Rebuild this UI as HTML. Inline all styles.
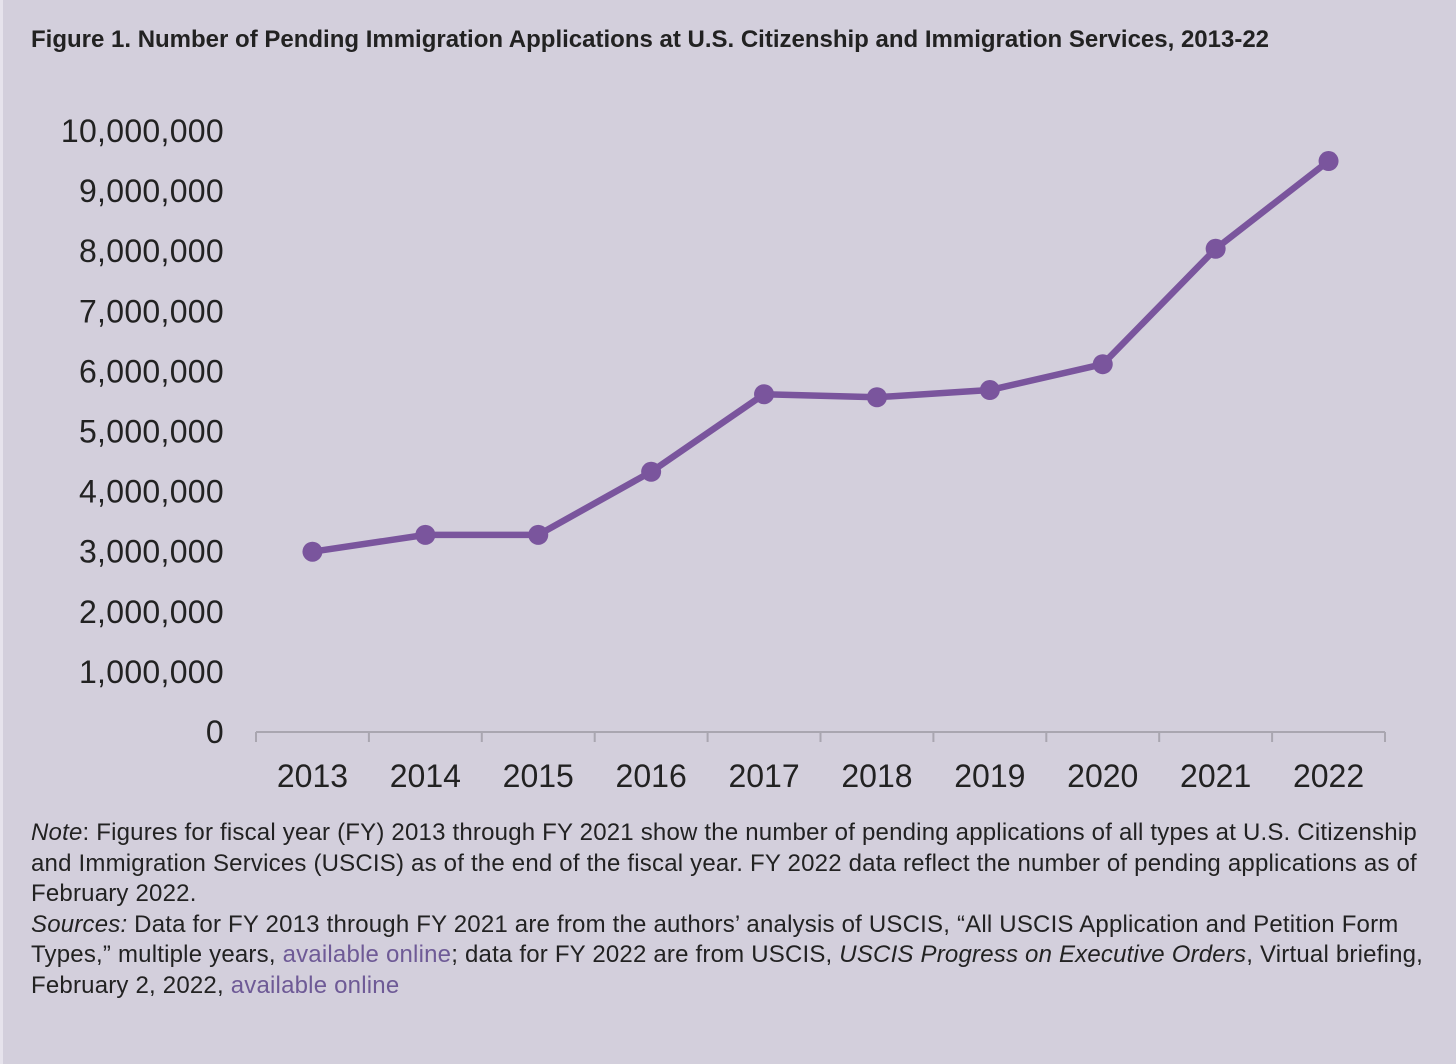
<!DOCTYPE html>
<html><head><meta charset="utf-8"><style>
html,body{margin:0;padding:0}
body{width:1456px;height:1064px;background:#d3cfdc;font-family:"Liberation Sans",sans-serif;position:relative;overflow:hidden;color:#1a1a1a}
#title{position:absolute;left:31px;top:26px;font-size:24px;font-weight:bold;letter-spacing:0px;color:#222;white-space:nowrap}
#note{position:absolute;left:31px;top:818px;width:1405px;font-size:24px;line-height:30.5px;letter-spacing:0.2px;color:#222}
.lk{color:#6e5a96}
#border{position:absolute;left:0;top:0;width:3px;height:1064px;background:#e6e3ec}
</style></head><body>
<div id="border"></div>
<div id="title">Figure 1. Number of Pending Immigration Applications at U.S. Citizenship and Immigration Services, 2013-22</div>
<svg id="chart" width="1456" height="1064" style="position:absolute;left:0;top:0"></svg>
<div id="note"><i>Note</i>: Figures for fiscal year (FY) 2013 through FY 2021 show the number of pending applications of all types at U.S. Citizenship and Immigration Services (USCIS) as of the end of the fiscal year. FY 2022 data reflect the number of pending applications as of February 2022.<br><i>Sources:</i> Data for FY 2013 through FY 2021 are from the authors’ analysis of USCIS, “All USCIS Application and Petition Form Types,” multiple years, <span class="lk">available online</span>; data for FY 2022 are from USCIS, <i>USCIS Progress on Executive Orders</i>, Virtual briefing, February 2, 2022, <span class="lk">available online</span></div>
<script>
const categories=["2013","2014","2015","2016","2017","2018","2019","2020","2021","2022"];
const values=[3000000,3280000,3280000,4330000,5620000,5570000,5690000,6120000,8040000,9500000];
const yTicks=[0,1000000,2000000,3000000,4000000,5000000,6000000,7000000,8000000,9000000,10000000];
const NS="http://www.w3.org/2000/svg";
const svg=document.getElementById('chart');
const x0=256,x1=1385,yBase=732,yTop=131,yMax=10000000;
const bw=(x1-x0)/categories.length;
const xs=i=>x0+bw*(i+0.5);
const ys=v=>yBase-(yBase-yTop)*v/yMax;
function mk(t,a){const e=document.createElementNS(NS,t);for(const k in a)e.setAttribute(k,a[k]);svg.appendChild(e);return e;}
yTicks.forEach(v=>{
 const t=mk('text',{x:224,y:ys(v)+11,'text-anchor':'end','font-size':32,fill:'#222','font-family':'Liberation Sans, sans-serif','letter-spacing':'0.3'});
 t.textContent=v.toLocaleString('en-US');
 
 
});
const ax=mk('line',{x1:x0,x2:x1,y1:yBase,y2:yBase,stroke:'#a9a6b0','stroke-width':2});


for(let i=0;i<=categories.length;i++){
 const tk=mk('line',{x1:x0+bw*i,x2:x0+bw*i,y1:yBase,y2:yBase+10,stroke:'#a9a6b0','stroke-width':2});
 
 
}
categories.forEach((c,i)=>{
 const t=mk('text',{x:xs(i),y:787,'text-anchor':'middle','font-size':32,fill:'#222','font-family':'Liberation Sans, sans-serif'});
 t.textContent=c;
 
 
});
const pl=mk('polyline',{points:values.map((v,i)=>xs(i)+','+ys(v)).join(' '),fill:'none',stroke:'#7a559d','stroke-width':6.5,'stroke-linejoin':'round'});


values.forEach((v,i)=>{
 const c=mk('circle',{cx:xs(i),cy:ys(v),r:10,fill:'#7a559d'});
 
 
});
</script>
</body></html>
